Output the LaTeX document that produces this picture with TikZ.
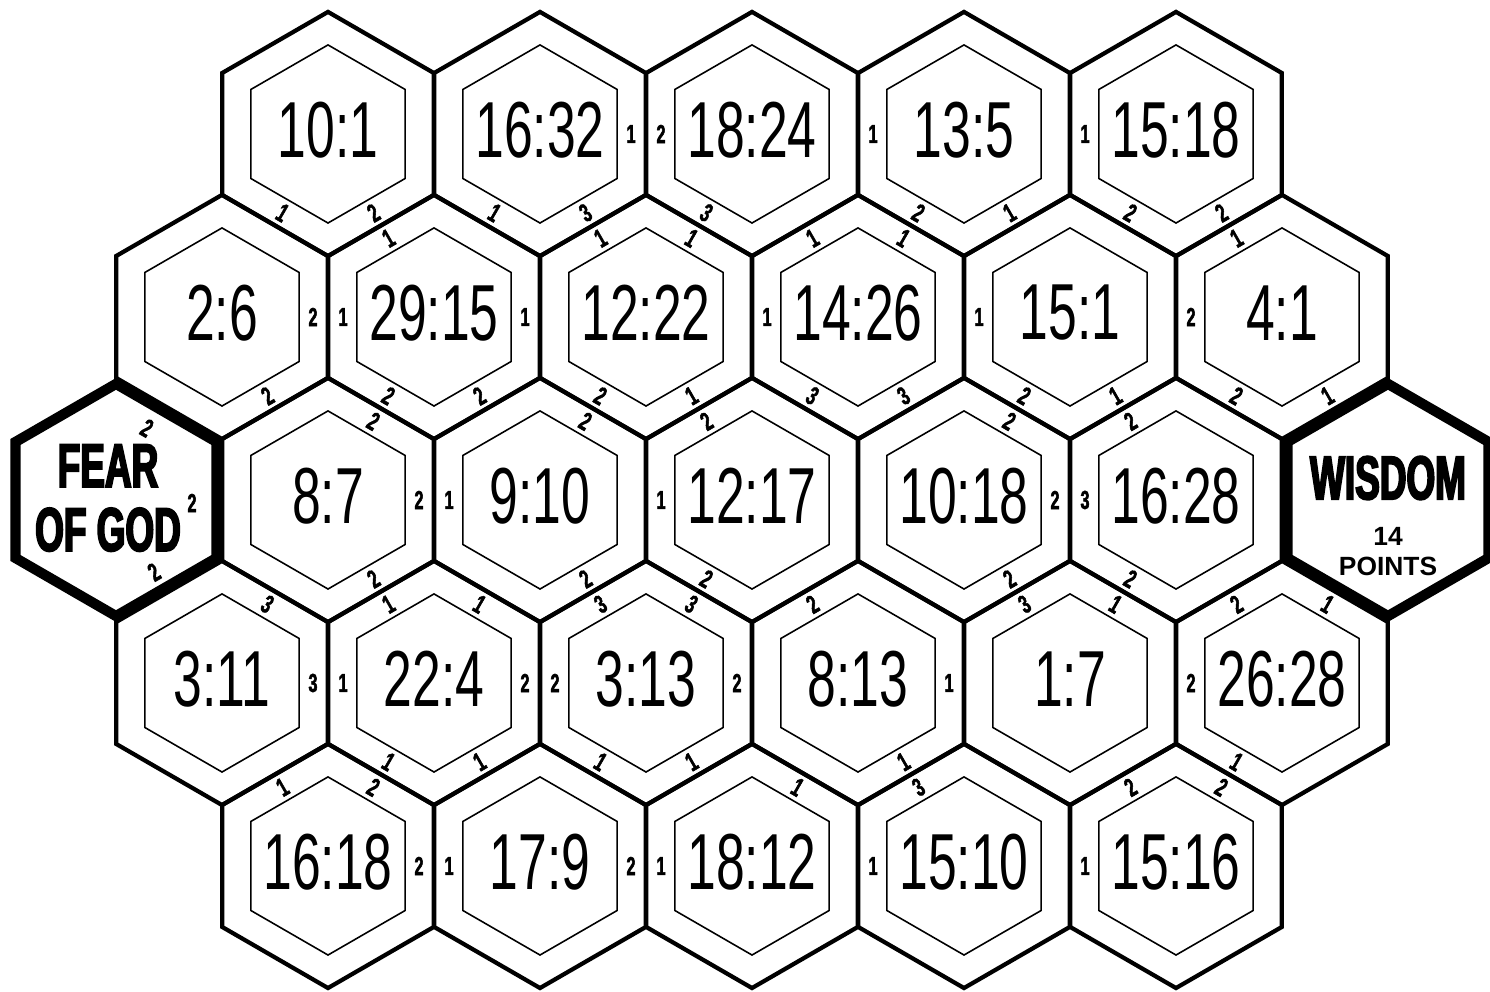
\documentclass[tikz,border=0pt]{standalone}
\usepackage{fontspec}
\setmainfont{Liberation Sans}
\newfontfamily\versefont[FakeStretch=0.65]{Liberation Sans}
\newfontfamily\headfont[FakeStretch=0.6,FakeBold=3]{Liberation Sans Bold}
\newfontfamily\tickfont[FakeStretch=0.62,FakeBold=2]{Liberation Sans Bold}
\usetikzlibrary{shapes.geometric}
\tikzset{
  cell/.style={
    shape = regular polygon,
    regular polygon sides = 6,
    regular polygon rotate = 30,
    inner sep = 0,
    minimum size = 2.44cm,
    line width = 1.2pt,
    draw
  },
  core/.style={
    cell,
    minimum size = 1.78cm,
    line width = 0.45pt
  },
  goal/.style={
    cell,
    minimum size = 2.32cm,
    line width = 2.9pt
  },
}
\tikzset{
  verse/.style={
    inner sep = 0,
    yshift = 0.4mm,
    font = \versefont\fontsize{22.6}{24}\selectfont
  },
  tick/.style={
    inner sep = 0,
    font = \tickfont\fontsize{7.4}{7.4}\selectfont
  },
  head/.style={
    inner sep = 0,
    align = center,
    font = \headfont\fontsize{17.5}{18.2}\selectfont
  },
  e0/.style={}, e180/.style={},
  e60/.style={rotate=-30}, e240/.style={rotate=-30},
  e120/.style={rotate=30}, e300/.style={rotate=30},
}

\begin{document}
\begin{tikzpicture}[x=0.01cm,y=0.01cm]
\useasboundingbox (0,0) rectangle (1490,992);
		  \foreach \x/\txt [count=\i] in {328/10:1,540/16:32,752/18:24,964/13:5,1176/15:18}{
		    \node[cell] (h1\i) at (\x,858) {};
		    \node[core] (h1\i-in) at (h1\i) {};
		    \node[verse] (h1\i-t) at (h1\i) {\txt}; }
		  \foreach \x/\txt [count=\i] in {222/2:6,434/29:15,646/12:22,858/14:26,1070/15:1,1282/4:1}{
		    \node[cell] (h2\i) at (\x,675) {};
		    \node[core] (h2\i-in) at (h2\i) {};
		    \node[verse] (h2\i-t) at (h2\i) {\txt}; }
		  \foreach \x/\txt [count=\i] in {328/8:7,540/9:10,752/12:17,964/10:18,1176/16:28}{
		    \node[cell] (h3\i) at (\x,492) {};
		    \node[core] (h3\i-in) at (h3\i) {};
		    \node[verse] (h3\i-t) at (h3\i) {\txt}; }
		  \foreach \x/\txt [count=\i] in {222/3:11,434/22:4,646/3:13,858/8:13,1070/1:7,1282/26:28}{
		    \node[cell] (h4\i) at (\x,309) {};
		    \node[core] (h4\i-in) at (h4\i) {};
		    \node[verse] (h4\i-t) at (h4\i) {\txt}; }
		  \foreach \x/\txt [count=\i] in {328/16:18,540/17:9,752/18:12,964/15:10,1176/15:16}{
		    \node[cell] (h5\i) at (\x,126) {};
		    \node[core] (h5\i-in) at (h5\i) {};
		    \node[verse] (h5\i-t) at (h5\i) {\txt}; }
% start and goal
\node[goal] (fear) at (116,492) {};
\node[head] (fear-t) at (108,494) {FEAR\\OF GOD};
\node[goal] (wisdom) at (1388,492) {};
\node[head] (wisdom-t) at (1388,514) {WISDOM};
\node[inner sep=0, align=center, font=\bfseries\fontsize{7.5}{8.5}\selectfont] (wisdom-p) at (1388,440) {14\\POINTS};
		  \foreach \dx/\dy/\ang in {31/72/60,76/-3/0,38/-72/300}{
		    \node[tick, e\ang] (k-fear-\ang) at ([shift={(\dx,\dy)}]fear) {2}; }
% edge numbers
		  \foreach \hx/\ang/\val in {
		    h11/240/1, h11/300/2,
		    h12/240/1, h12/300/3, h12/0/1,
		    h13/180/2, h13/240/3,
		    h14/180/1, h14/240/2, h14/300/1,
		    h15/180/1, h15/240/2, h15/300/2,
		    h21/0/2, h21/300/2,
		    h22/120/1, h22/180/1, h22/0/1, h22/240/2, h22/300/2,
		    h23/120/1, h23/60/1, h23/240/2, h23/300/1,
		    h24/120/1, h24/60/1, h24/180/1, h24/240/3, h24/300/3,
		    h25/180/1, h25/240/2, h25/300/1,
		    h26/120/1, h26/180/2, h26/240/2, h26/300/1,
		    h31/60/2, h31/0/2, h31/300/2,
		    h32/180/1, h32/60/2, h32/300/2,
		    h33/180/1, h33/120/2, h33/240/2,
		    h34/60/2, h34/0/2, h34/300/2,
		    h35/180/3, h35/120/2, h35/240/2,
		    h41/60/3, h41/0/3,
		    h42/120/1, h42/60/1, h42/180/1, h42/0/2, h42/240/1, h42/300/1,
		    h43/180/2, h43/120/3, h43/60/3, h43/0/2, h43/240/1, h43/300/1,
		    h44/120/2, h44/0/1, h44/300/1,
		    h45/120/3, h45/60/1,
		    h46/180/2, h46/120/2, h46/60/1, h46/240/1,
		    h51/120/1, h51/60/2, h51/0/2,
		    h52/180/1, h52/0/2,
		    h53/180/1, h53/60/1,
		    h54/180/1, h54/120/3,
		    h55/180/1, h55/120/2, h55/60/2}{
		    \node[tick, e\ang] (k-\hx-\ang) at ([shift={(\ang:91)}]\hx) {\val}; }
\end{tikzpicture}
\end{document}
